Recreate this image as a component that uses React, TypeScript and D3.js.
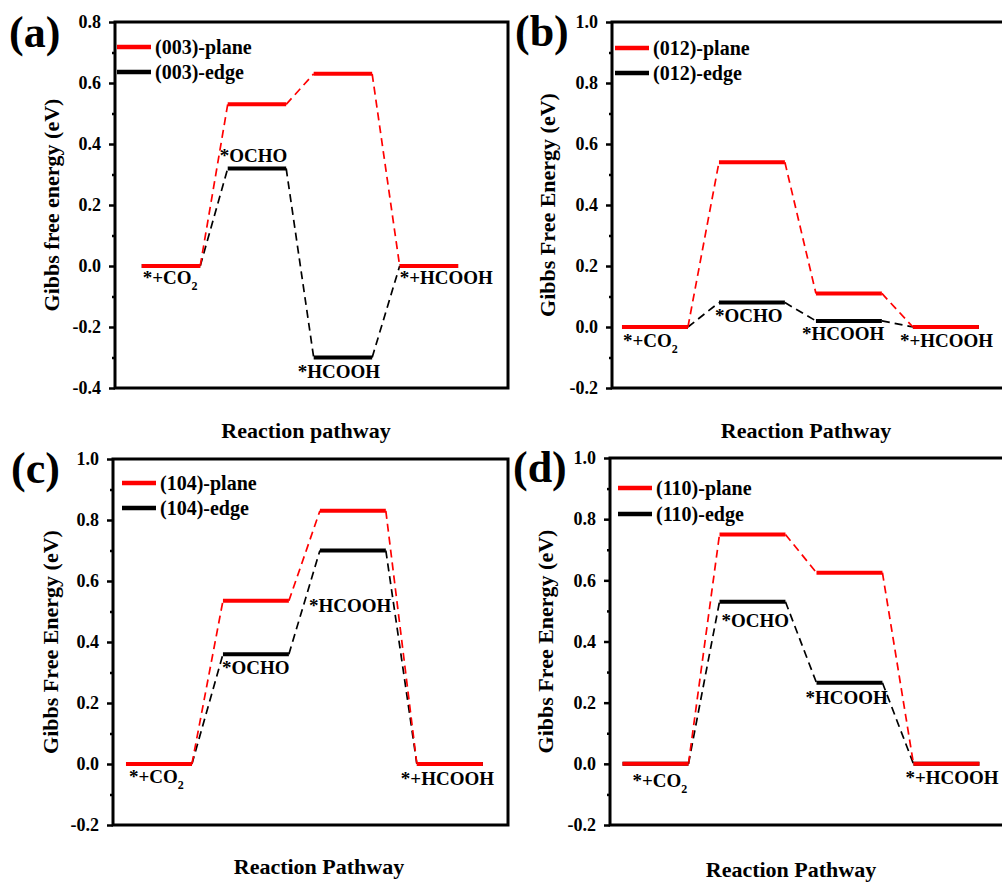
import { useEffect, useRef } from 'react';
import * as d3 from 'd3';

// reaction steps along the pathway
const stepIndex = [1, 2, 3, 4];
const stepNames = ['*+CO2', '*OCHO', '*HCOOH', '*+HCOOH'];

// Gibbs free energies (eV)
const planeA = [0, 0.53, 0.63, 0];
const edgeA = [0, 0.32, -0.3, 0];
const planeB = [0, 0.54, 0.11, 0];
const edgeB = [0, 0.08, 0.02, 0];
const planeC = [0, 0.535, 0.83, 0];
const edgeC = [0, 0.36, 0.7, 0];
const planeD = [0, 0.75, 0.625, 0];
const edgeD = [0, 0.53, 0.265, 0];

const legendA = ['(003)-plane', '(003)-edge'];
const legendB = ['(012)-plane', '(012)-edge'];
const legendC = ['(104)-plane', '(104)-edge'];
const legendD = ['(110)-plane', '(110)-edge'];

const ticksA = [-0.4, -0.2, 0, 0.2, 0.4, 0.6, 0.8];
const minorA = [-0.3, -0.1, 0.1, 0.3, 0.5, 0.7];
const ticksB = [-0.2, 0, 0.2, 0.4, 0.6, 0.8, 1.0];
const minorB = [-0.1, 0.1, 0.3, 0.5, 0.7, 0.9];

const FONT = '"Liberation Serif", "Times New Roman", serif';
const RED = '#ff0000';

type Panel = {
  letter: string;
  plane: number[];
  edge: number[];
  legend: string[];
  yTitle: string;
  xTitle: string;
  yTicks: number[];
  yMinor: number[];
  yDomain: [number, number];
  xDomain: [number, number];
  box: { l: number; t: number; r: number; b: number };
  letterPos: [number, number];
  legendPos: [number, number, number]; // dx, dy first row, row gap
  yTitleX: number;
  xTitlePos: [number, number];
  labelOffsets: [number, number][];
};

const panels: Panel[] = [
  {
    letter: '(a)', plane: planeA, edge: edgeA, legend: legendA,
    yTitle: 'Gibbs free energy (eV)', xTitle: 'Reaction pathway',
    yTicks: ticksA, yMinor: minorA, yDomain: [-0.4, 0.8], xDomain: [0.349, 4.92],
    box: { l: 115, t: 22, r: 508, b: 388 },
    letterPos: [9, 47], legendPos: [2, 25, 25], yTitleX: 52, xTitlePos: [306, 438],
    labelOffsets: [[1, 18], [-8, -6], [-16, 20], [0, 18]],
  },
  {
    letter: '(b)', plane: planeB, edge: edgeB, legend: legendB,
    yTitle: 'Gibbs Free Energy (eV)', xTitle: 'Reaction Pathway',
    yTicks: ticksB, yMinor: minorB, yDomain: [-0.2, 1.0], xDomain: [0.557, 4.62],
    box: { l: 612, t: 22, r: 1006, b: 388 },
    letterPos: [515, 46], legendPos: [3, 26, 25], yTitleX: 548, xTitlePos: [806, 438],
    labelOffsets: [[1, 20], [-4, 19], [-14, 19], [-13, 20]],
  },
  {
    letter: '(c)', plane: planeC, edge: edgeC, legend: legendC,
    yTitle: 'Gibbs Free Energy (eV)', xTitle: 'Reaction Pathway',
    yTicks: ticksB, yMinor: minorB, yDomain: [-0.2, 1.0], xDomain: [0.526, 4.6],
    box: { l: 113, t: 459, r: 508, b: 825 },
    letterPos: [11, 483], legendPos: [9, 24, 25], yTitleX: 51, xTitlePos: [319, 874],
    labelOffsets: [[3, 19], [-1, 20], [-11, 61], [-16, 21]],
  },
  {
    letter: '(d)', plane: planeD, edge: edgeD, legend: legendD,
    yTitle: 'Gibbs Free Energy (eV)', xTitle: 'Reaction Pathway',
    yTicks: ticksB, yMinor: minorB, yDomain: [-0.2, 1.0], xDomain: [0.531, 4.614],
    box: { l: 610, t: 458, r: 1006, b: 825 },
    letterPos: [513, 482], legendPos: [8, 30, 26], yTitleX: 546, xTitlePos: [791, 877],
    labelOffsets: [[10, 23], [2, 25], [-11, 21], [-8, 20]],
  },
];

const HALF = 0.34; // half width of an energy level, in step units

const drawPanel = (svg: d3.Selection<SVGSVGElement, unknown, null, undefined>, p: Panel) => {
  const { l, t, r, b } = p.box;
  const xScale = d3.scaleLinear().domain(p.xDomain).range([l, r]);
  const yScale = d3.scaleLinear().domain(p.yDomain).range([b, t]);

  const g = svg.append('g');

  // energy levels + dashed connectors
  const series = [
    { vals: p.edge, color: '#000' },
    { vals: p.plane, color: RED },
  ];
  series.forEach(s => {
    const links = stepIndex.slice(0, -1).map((st, i) => ({
      x1: st + HALF, y1: s.vals[i], x2: stepIndex[i + 1] - HALF, y2: s.vals[i + 1],
    }));
    g.selectAll(null)
      .data(links)
      .enter()
      .append('line')
      .attr('x1', d => xScale(d.x1))
      .attr('y1', d => yScale(d.y1))
      .attr('x2', d => xScale(d.x2))
      .attr('y2', d => yScale(d.y2))
      .attr('stroke', s.color)
      .attr('stroke-width', 1.7)
      .attr('stroke-dasharray', '8,5');
  });
  series.forEach(s => {
    g.selectAll(null)
      .data(stepIndex)
      .enter()
      .append('line')
      .attr('x1', d => xScale(d - HALF))
      .attr('x2', d => xScale(d + HALF))
      .attr('y1', (d, i) => yScale(s.vals[i]))
      .attr('y2', (d, i) => yScale(s.vals[i]))
      .attr('stroke', s.color)
      .attr('stroke-width', 4);
  });

  // step labels
  stepNames.forEach((name, i) => {
    const [dx, dy] = p.labelOffsets[i];
    const txt = g.append('text')
      .attr('x', xScale(stepIndex[i] - HALF) + dx)
      .attr('y', yScale(p.edge[i]) + dy)
      .attr('font-family', FONT)
      .attr('font-weight', 'bold')
      .attr('font-size', 19)
      .attr('fill', '#000');
    if (name.endsWith('CO2')) {
      txt.append('tspan').text(name.slice(0, -1));
      txt.append('tspan').attr('font-size', 12).attr('dy', 6).text('2');
    } else {
      txt.text(name);
    }
  });

  // axes
  const yAxis = g.append('g')
    .attr('transform', `translate(${l},0)`)
    .call(d3.axisLeft(yScale).tickValues(p.yTicks).tickSize(6).tickSizeOuter(0).tickPadding(8)
      .tickFormat(d => (d as number).toFixed(1)));
  yAxis.select('.domain').remove();
  yAxis.selectAll('line').attr('stroke-width', 2.5);
  yAxis.selectAll('text')
    .attr('font-family', FONT)
    .attr('font-weight', 'bold')
    .attr('font-size', 18)
    .attr('fill', '#000');

  const minor = g.append('g')
    .attr('transform', `translate(${l},0)`)
    .call(d3.axisLeft(yScale).tickValues(p.yMinor).tickSize(3).tickSizeOuter(0).tickFormat(() => ''));
  minor.select('.domain').remove();
  minor.selectAll('line').attr('stroke-width', 2.5);

  g.append('rect')
    .attr('x', l)
    .attr('y', t)
    .attr('width', r - l)
    .attr('height', b - t)
    .attr('fill', 'none')
    .attr('stroke', '#000')
    .attr('stroke-width', 3);

  // legend
  const [ldx, ldy, lgap] = p.legendPos;
  [RED, '#000'].forEach((c, i) => {
    const y = t + ldy + i * lgap;
    g.append('line')
      .attr('x1', l + ldx)
      .attr('x2', l + ldx + 34)
      .attr('y1', y)
      .attr('y2', y)
      .attr('stroke', c)
      .attr('stroke-width', 4.5);
    g.append('text')
      .attr('x', l + ldx + 38)
      .attr('y', y + 7)
      .attr('font-family', FONT)
      .attr('font-weight', 'bold')
      .attr('font-size', 20)
      .text(p.legend[i]);
  });

  // titles
  g.append('text')
    .attr('transform', `translate(${p.yTitleX + 7},${(t + b) / 2}) rotate(-90)`)
    .attr('text-anchor', 'middle')
    .attr('font-family', FONT)
    .attr('font-weight', 'bold')
    .attr('font-size', 22)
    .text(p.yTitle);
  g.append('text')
    .attr('x', p.xTitlePos[0])
    .attr('y', p.xTitlePos[1])
    .attr('text-anchor', 'middle')
    .attr('font-family', FONT)
    .attr('font-weight', 'bold')
    .attr('font-size', 22)
    .text(p.xTitle);
  g.append('text')
    .attr('x', p.letterPos[0])
    .attr('y', p.letterPos[1])
    .attr('font-family', FONT)
    .attr('font-weight', 'bold')
    .attr('font-size', 44)
    .text(p.letter);
};

const App = () => {
  const chartRef = useRef<SVGSVGElement | null>(null);

  useEffect(() => {
    const svg = d3.select(chartRef.current as SVGSVGElement);
    svg.selectAll('*').remove();
    svg.append('rect').attr('width', 1002).attr('height', 882).attr('fill', '#fff');
    panels.forEach(p => drawPanel(svg, p));
  }, []);

  return (
    <svg
      ref={chartRef}
      width={1002}
      height={882}
      style={{ position: 'absolute', left: 0, top: 0, display: 'block' }}
    />
  );
};

export default App;
